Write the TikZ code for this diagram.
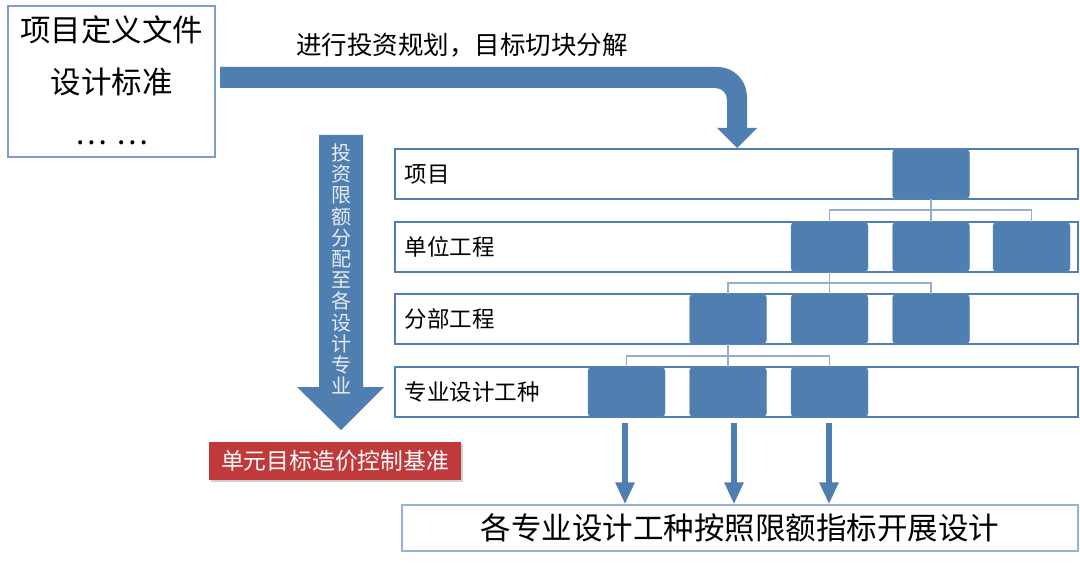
\documentclass[tikz,border=0pt]{standalone}
\usepackage{fontspec}
\setmainfont{Noto Sans CJK SC}
\usetikzlibrary{arrows.meta,shadows}

\definecolor{boxblue}{RGB}{79,126,177}
\definecolor{linkblue}{RGB}{150,174,204}
\definecolor{docline}{RGB}{125,157,204}
\definecolor{endline}{RGB}{149,179,215}
\definecolor{basered}{RGB}{192,57,59}
\definecolor{tagtext}{RGB}{232,236,242}

\tikzset{
  rowbox/.style={draw=boxblue, line width=1.3pt, fill=white, minimum width=683pt, minimum height=50pt, inner sep=0pt},
  unit/.style={fill=boxblue, draw=boxblue!85!white, rounded corners=4pt, minimum width=77pt, minimum height=50pt, inner sep=0pt},
  link/.style={draw=linkblue, line width=1.6pt},
  flow/.style={draw=boxblue, line width=6pt, -{Triangle[width=18pt,length=22pt]}},
  rowlabel/.style={anchor=west, font=\fontsize{22.5}{26}\selectfont},
}

\begin{document}
\begin{tikzpicture}[x=1pt, y=-1pt]
        \fill [white] (0,0) rectangle (1080,564);
        \useasboundingbox (0,0) rectangle (1080,564);

        % documents
        \node[draw=docline, line width=1.2pt, minimum width=207pt, minimum height=151pt, inner sep=0pt] (doc) at (111.5,81.5) {};
        \node[font=\fontsize{30.5}{36}\selectfont] (doc1) at (111.5,30) {项目定义文件};
        \node[font=\fontsize{30.5}{36}\selectfont] (doc2) at (111.5,82) {设计标准};
        \node[font=\fontsize{30}{36}\selectfont] (doc3) at (111.5,143) {…\hspace{9pt}…};

        % planning arrow
        \fill [boxblue] (220,67) -- (717,67) .. controls (734,67) and (747,80) .. (747,98)
            -- (747,128) -- (757,128) -- (737,148) -- (717,128) -- (727,128) -- (727,100)
            .. controls (727,93) and (722,88) .. (715,88) -- (220,88) -- cycle;
        \node[font=\fontsize{25.5}{30}\selectfont] (plan) at (462,45) {进行投资规划，目标切块分解};

        % allocation arrow
        \fill [boxblue] (319,135) -- (363,135) -- (363,387) -- (384,387) -- (341,430) -- (297,387) -- (319,387) -- cycle;
        \node[font=\fontsize{20}{21.2}\selectfont, text=tagtext, align=center, inner sep=0pt] (split) at (341,269)
            {投\\资\\限\\额\\分\\配\\至\\各\\设\\计\\专\\业};

        \node[fill=basered, text=white, minimum width=252pt, minimum height=38pt, inner sep=0pt,
              drop shadow={shadow xshift=2pt, shadow yshift=-2pt, opacity=0.35},
              font=\fontsize{22.8}{26}\selectfont] (base) at (335,461) {单元目标造价控制基准};

        % levels
        \node[rowbox] (lv1) at (736.5,174) {};
        \node[rowbox] (lv2) at (736.5,247) {};
        \node[rowbox] (lv3) at (736.5,319) {};
        \node[rowbox] (lv4) at (736.5,392) {};
        \node[rowlabel] at ([xshift=7pt]lv1.west) {项目};
        \node[rowlabel] at ([xshift=7pt]lv2.west) {单位工程};
        \node[rowlabel] at ([xshift=7pt]lv3.west) {分部工程};
        \node[rowlabel] at ([xshift=7pt]lv4.west) {专业设计工种};

        \node[unit] (u11) at (931,174) {};
        \node[unit] (u21) at (829.5,247) {};
        \node[unit] (u22) at (931,247) {};
        \node[unit] (u23) at (1031.5,247) {};
        \node[unit] (u31) at (728,319) {};
        \node[unit] (u32) at (829.5,319) {};
        \node[unit] (u33) at (931,319) {};
        \node[unit] (u41) at (626.5,392) {};
        \node[unit] (u42) at (728,392) {};
        \node[unit] (u43) at (829.5,392) {};

        \foreach \c in {u21,u22,u23}
            \draw[link] (u11.south) -- ++(0,11) -| (\c.north);
        \foreach \c in {u31,u32,u33}
            \draw[link] (u21.south) -- ++(0,11) -| (\c.north);
        \foreach \c in {u41,u42,u43}
            \draw[link] (u31.south) -- ++(0,12) -| (\c.north);

        % design
        \node[draw=endline, line width=1.3pt, minimum width=676pt, minimum height=46pt, inner sep=0pt,
              font=\fontsize{30.5}{34}\selectfont] (final) at (740,528) {各专业设计工种按照限额指标开展设计};

        \foreach \c/\dx in {u41/-1.5,u42/6,u43/-0.5}
            \draw[flow] ([xshift=\dx pt, yshift=-6pt]\c.south) -- ([xshift=\dx pt]\c.south |- final.north);

\end{tikzpicture}
\end{document}
